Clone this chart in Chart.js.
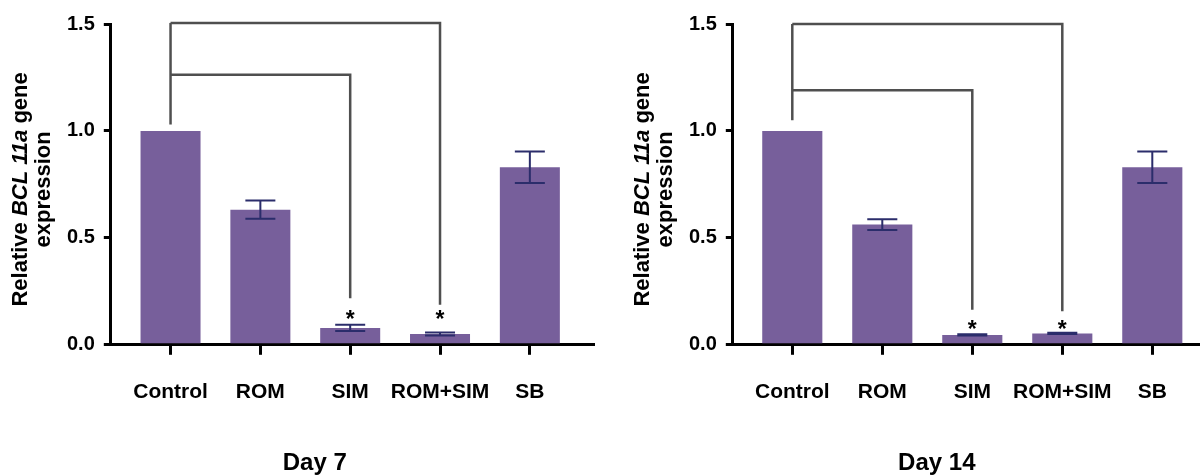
<!DOCTYPE html>
<html>
<head>
<meta charset="utf-8">
<script src="https://cdn.jsdelivr.net/npm/chart.js@4.4.1/dist/chart.umd.min.js"></script>
<style>
    html, body { margin: 0; padding: 0; background: #fff; }
    #wrap { display: flex; width: 1200px; height: 476px; }
    canvas { display: block; }
</style>
</head>
<body>
<div id="wrap">
    <canvas id="day7Chart" width="600" height="476"></canvas>
    <canvas id="day14Chart" width="600" height="476"></canvas>
</div>
<script>
// Values
const categories = ["Control", "ROM", "SIM", "ROM+SIM", "SB"];

const day7Means = [1.0, 0.632, 0.079, 0.051, 0.830];
const day7Errors = [0, 0.043, 0.015, 0.007, 0.074];

const day14Means = [1.0, 0.562, 0.046, 0.053, 0.830];
const day14Errors = [0, 0.025, 0.003, 0.003, 0.074];

// Significance brackets (category index from/to, bracket level, where the drop ends)
const day7Brackets = [
    { from: 0, to: 3, level: 1.505, end: 0.187 },
    { from: 0, to: 2, level: 1.263, end: 0.218 },
];
const day14Brackets = [
    { from: 0, to: 3, level: 1.500, end: 0.157 },
    { from: 0, to: 2, level: 1.190, end: 0.164 },
];
const day7BracketStart = 1.03;
const day14BracketStart = 1.05;

// Asterisks above bars (category index, value of the star centre)
const day7Stars = [{ at: 2, y: 0.145 }, { at: 3, y: 0.145 }];
const day14Stars = [{ at: 2, y: 0.098 }, { at: 3, y: 0.098 }];

const barColor = "#775f9b";
const errorColor = "#2b2d6b";
const bracketColor = "#4f4f4f";
const FONT = "'Liberation Sans', Arial, Helvetica, sans-serif";

function makeChart(id, label, means, errors, brackets, bracketStart, stars, pad, xRange) {
    const ctxEl = document.getElementById(id);

    // Error bars, brackets, stars and titles
    const annotate = {
        id: "annotate",
        afterDatasetsDraw(chart) {
            const ctx = chart.ctx;
            const x = chart.scales.x;
            const y = chart.scales.y;
            const bars = chart.getDatasetMeta(0).data;

            ctx.save();
            // error bars
            ctx.strokeStyle = errorColor;
            ctx.lineWidth = 2;
            means.forEach((m, i) => {
                const e = errors[i];
                if (!e) return;
                const cx = bars[i].x;
                const half = bars[i].width / 4;
                const top = y.getPixelForValue(m + e);
                const bot = y.getPixelForValue(m - e);
                ctx.beginPath();
                ctx.moveTo(cx, top); ctx.lineTo(cx, bot);
                ctx.moveTo(cx - half, top); ctx.lineTo(cx + half, top);
                ctx.moveTo(cx - half, bot); ctx.lineTo(cx + half, bot);
                ctx.stroke();
            });

            // brackets
            ctx.strokeStyle = bracketColor;
            ctx.lineWidth = 2.5;
            ctx.lineJoin = "miter";
            const startX = x.getPixelForValue(0);
            const topLevel = Math.max(...brackets.map(b => b.level));
            ctx.beginPath();
            ctx.moveTo(startX, y.getPixelForValue(bracketStart));
            ctx.lineTo(startX, y.getPixelForValue(topLevel));
            ctx.stroke();
            brackets.forEach(b => {
                ctx.beginPath();
                ctx.moveTo(x.getPixelForValue(b.from), y.getPixelForValue(b.level));
                ctx.lineTo(x.getPixelForValue(b.to), y.getPixelForValue(b.level));
                ctx.lineTo(x.getPixelForValue(b.to), y.getPixelForValue(b.end));
                ctx.stroke();
            });

            // stars
            ctx.fillStyle = "#000";
            ctx.font = "bold 23px " + FONT;
            ctx.textAlign = "center";
            ctx.textBaseline = "alphabetic";
            stars.forEach(s => {
                ctx.fillText("*", x.getPixelForValue(s.at), y.getPixelForValue(s.y) + 13);
            });
            ctx.restore();
        },
        afterDraw(chart) {
            const ctx = chart.ctx;
            const area = chart.chartArea;
            ctx.save();
            ctx.fillStyle = "#000";
            // y title, two lines, "BCL 11a" in italics
            const mid = (area.top + area.bottom) / 2 + 5;
            const parts = [
                ["Relative ", "bold 22px " + FONT],
                ["BCL 11a", "italic bold 22px " + FONT],
                [" gene", "bold 22px " + FONT],
            ];
            let total = 0;
            parts.forEach(p => { ctx.font = p[1]; total += ctx.measureText(p[0]).width; });
            ctx.save();
            ctx.translate(area.left - 90, mid);
            ctx.rotate(-Math.PI / 2);
            ctx.textBaseline = "middle";
            ctx.textAlign = "left";
            let pos = -total / 2;
            parts.forEach(p => {
                ctx.font = p[1];
                ctx.fillText(p[0], pos, 0);
                pos += ctx.measureText(p[0]).width;
            });
            ctx.restore();
            ctx.save();
            ctx.translate(area.left - 67, mid);
            ctx.rotate(-Math.PI / 2);
            ctx.textBaseline = "middle";
            ctx.textAlign = "center";
            ctx.font = "bold 22px " + FONT;
            ctx.fillText("expression", 0, 0);
            ctx.restore();

            // panel label under the axis
            ctx.font = "bold 24px " + FONT;
            ctx.textAlign = "center";
            ctx.textBaseline = "alphabetic";
            ctx.fillText(label, area.left + 204, 470);
            ctx.restore();
        },
    };

    return new Chart(ctxEl, {
        type: "bar",
        data: {
            datasets: [
                {
                    data: means.map((v, i) => ({ x: i, y: v })),
                    backgroundColor: barColor,
                    borderWidth: 0,
                    barPercentage: 0.668,
                    categoryPercentage: 1,
                },
            ],
        },
        options: {
            responsive: false,
            animation: false,
            layout: { padding: pad },
            plugins: {
                legend: { display: false },
                tooltip: { enabled: false },
            },
            scales: {
                x: {
                    type: "linear",
                    min: xRange[0],
                    max: xRange[1],
                    offset: false,
                    z: 1,
                    grid: {
                        offset: false,
                        drawOnChartArea: false,
                        tickLength: 10,
                        color: "#000",
                        lineWidth: 3,
                    },
                    border: { color: "#000", width: 3 },
                    ticks: {
                        stepSize: 1,
                        includeBounds: false,
                        autoSkip: false,
                        maxRotation: 0,
                        minRotation: 0,
                        padding: 25,
                        color: "#000",
                        font: { family: FONT, size: 21, weight: "bold" },
                        callback: (v) => Number.isInteger(v) ? categories[v] : "",
                    },
                },
                y: {
                    min: 0,
                    max: 1.5,
                    grid: {
                        drawOnChartArea: false,
                        tickLength: 7,
                        color: "#000",
                        lineWidth: 3,
                    },
                    border: { color: "#000", width: 3 },
                    ticks: {
                        stepSize: 0.5,
                        padding: 9,
                        color: "#000",
                        font: { family: FONT, size: 20, weight: "bold" },
                        callback: (v) => v.toFixed(1),
                    },
                },
            },
        },
        plugins: [annotate],
    });
}

makeChart("day7Chart", "Day 7", day7Means, day7Errors, day7Brackets, day7BracketStart, day7Stars,
    { left: 58, right: 7, top: 24, bottom: 46 }, [-0.665, 4.703]);
makeChart("day14Chart", "Day 14", day14Means, day14Errors, day14Brackets, day14BracketStart, day14Stars,
    { left: 80, right: 0, top: 24, bottom: 46 }, [-0.661, 4.53]);
</script>
</body>
</html>
